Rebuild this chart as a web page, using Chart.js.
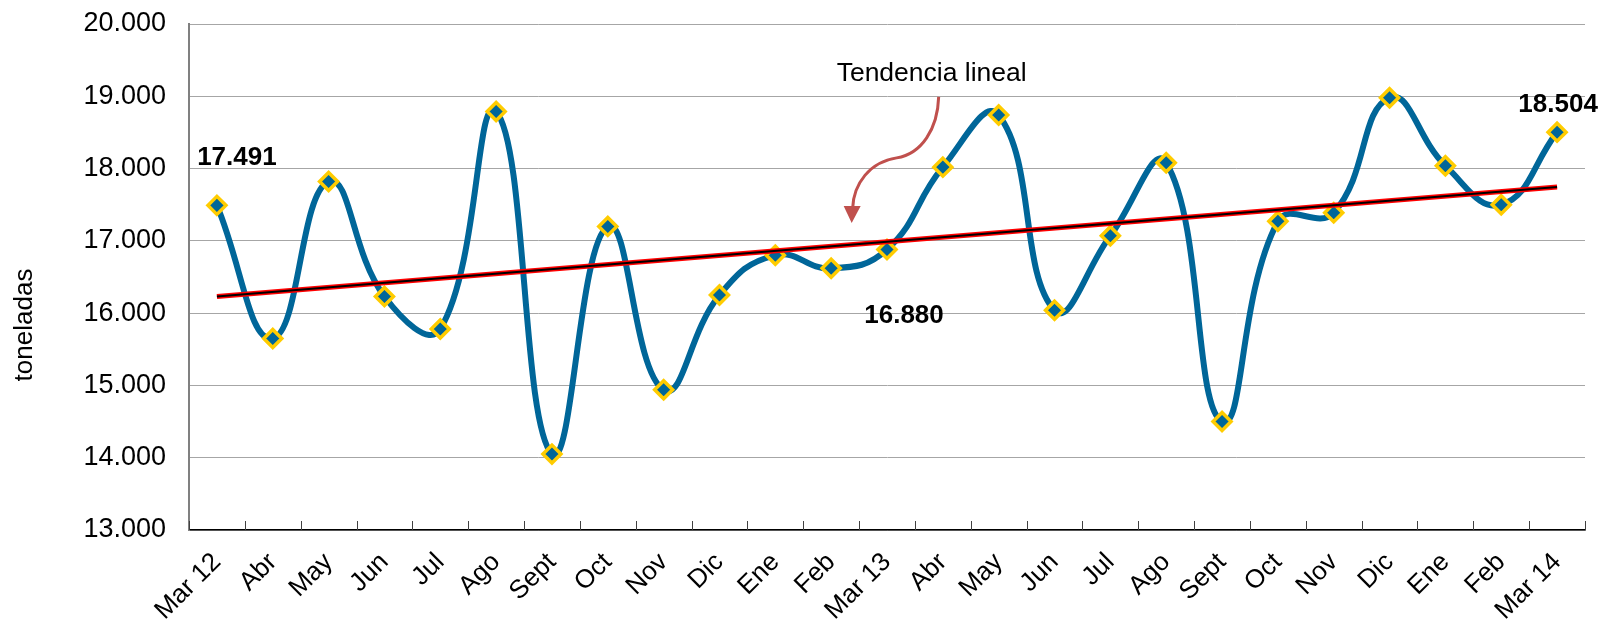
<!DOCTYPE html>
<html>
<head>
<meta charset="utf-8">
<script src="https://cdn.jsdelivr.net/npm/chart.js@4.4.1/dist/chart.umd.min.js"></script>
<style>
  html, body { margin: 0; padding: 0; background: #fff; }
  #wrap { width: 1606px; height: 624px; }
</style>
</head>
<body>
<div id="wrap"><canvas id="lineChart"></canvas></div>
<script>
var months = ['Mar 12', 'Abr', 'May', 'Jun', 'Jul', 'Ago', 'Sept', 'Oct', 'Nov', 'Dic', 'Ene', 'Feb',
  'Mar 13', 'Abr', 'May', 'Jun', 'Jul', 'Ago', 'Sept', 'Oct', 'Nov', 'Dic', 'Ene', 'Feb', 'Mar 14']
var tonnes = [17491, 15650, 17820, 16230, 15780, 18790, 14050, 17200, 14940, 16250, 16800, 16620,
  16880, 18020, 18740, 16040, 17070, 18080, 14500, 17270, 17390, 18980, 18040, 17500, 18504]
var trendEnds = [16230, 17745]
var calloutIdx = [0, 12, 24]
var yMin = 13000, yMax = 20000, yStep = 1000
var axisTitle = 'toneladas'
var trendNote = 'Tendencia lineal'

var FONT = '"Liberation Sans", Arial, sans-serif'

function fmt(v) {
  return String(Math.round(v)).replace(/\B(?=(\d{3})+(?!\d))/g, '.')
}

var trendData = months.map(function (m, i) {
  if (i === 0) return trendEnds[0]
  if (i === months.length - 1) return trendEnds[1]
  return null
})

//-------------
//- EXTRAS -
//-------------
var extras = {
  id: 'extras',
  afterDatasetsDraw: function (chart) {
    var ctx = chart.ctx
    var xs = chart.scales.x
    var ys = chart.scales.y
    var area = chart.chartArea
    ctx.save()

    // small inside ticks between categories
    ctx.strokeStyle = '#404040'
    ctx.lineWidth = 1
    for (var i = 0; i <= months.length; i++) {
      var tx = Math.round(xs.getPixelForValue(i - 0.5)) + 0.5
      ctx.beginPath()
      ctx.moveTo(tx, area.bottom)
      ctx.lineTo(tx, area.bottom - 9)
      ctx.stroke()
    }

    // value callouts
    var offs = [[20, -48], [17, 66], [1, -27]]
    ctx.font = 'bold 26px ' + FONT
    ctx.fillStyle = '#000'
    ctx.textAlign = 'center'
    ctx.textBaseline = 'middle'
    calloutIdx.forEach(function (idx, k) {
      var px = xs.getPixelForValue(idx)
      var py = ys.getPixelForValue(tonnes[idx])
      ctx.fillText(fmt(tonnes[idx]), px + offs[k][0], py + offs[k][1])
    })

    // trend note + curved arrow
    var ax = xs.getPixelForValue(12.8)
    var ay = ys.getPixelForValue(19310)
    ctx.font = '26.5px ' + FONT
    ctx.fillText(trendNote, ax, ay)
    ctx.strokeStyle = '#C0504D'
    ctx.fillStyle = '#C0504D'
    ctx.lineWidth = 3
    ctx.beginPath()
    ctx.moveTo(ax + 7, ay + 23)
    ctx.bezierCurveTo(ax + 6, ay + 55, ax - 10, ay + 80, ax - 35, ay + 84)
    ctx.bezierCurveTo(ax - 62, ay + 88, ax - 78, ay + 110, ax - 79, ay + 134)
    ctx.stroke()
    ctx.beginPath()
    ctx.moveTo(ax - 80, ay + 149)
    ctx.lineTo(ax - 88, ay + 132)
    ctx.lineTo(ax - 71, ay + 132)
    ctx.closePath()
    ctx.fill()

    // axis title
    ctx.fillStyle = '#000'
    ctx.font = '26px ' + FONT
    ctx.translate(25, (area.top + area.bottom) / 2 + 48)
    ctx.rotate(-Math.PI / 2)
    ctx.fillText(axisTitle, 0, 0)
    ctx.restore()
  }
}

var lineCanvas = document.getElementById('lineChart').getContext('2d')

var lineChart = new Chart(lineCanvas, {
  type: 'line',
  data: {
    labels: months,
    datasets: [
      {
        label: 'trend',
        data: trendData,
        borderColor: '#000000',
        borderWidth: 2,
        pointRadius: 0,
        spanGaps: true,
        tension: 0,
        order: 0
      },
      {
        label: 'trend-glow',
        data: trendData,
        borderColor: '#FF0000',
        borderWidth: 5,
        pointRadius: 0,
        spanGaps: true,
        tension: 0,
        order: 1
      },
      {
        label: 'toneladas',
        data: tonnes,
        borderColor: '#006699',
        borderWidth: 6,
        tension: 0.45,
        pointStyle: 'rectRot',
        pointRadius: 9,
        pointBackgroundColor: '#006699',
        pointBorderColor: '#FFCC00',
        pointBorderWidth: 3.5,
        order: 2
      }
    ]
  },
  options: {
    responsive: true,
    maintainAspectRatio: false,
    animation: false,
    layout: { padding: { top: 24, right: 21, bottom: 0, left: 0 } },
    plugins: {
      legend: { display: false },
      tooltip: { enabled: false }
    },
    scales: {
      x: {
        offset: true,
        grid: { display: false, drawTicks: false },
        border: { display: true, color: '#000000', width: 1.5 },
        ticks: {
          color: '#000',
          font: { family: FONT, size: 26 },
          minRotation: 45,
          maxRotation: 45,
          autoSkip: false,
          padding: 17
        },
        afterFit: function (scale) { scale.height = 94 }
      },
      y: {
        min: yMin,
        max: yMax,
        grid: { color: '#A6A6A6', lineWidth: 1, drawTicks: true, tickLength: 18, tickColor: 'rgba(0,0,0,0)' },
        border: { display: true, color: '#808080', width: 2 },
        ticks: {
          stepSize: yStep,
          color: '#000',
          font: { family: FONT, size: 27 },
          padding: 5,
          callback: function (v) { return fmt(v) }
        },
        afterFit: function (scale) { scale.width = 189 }
      }
    }
  },
  plugins: [extras]
})
</script>
</body>
</html>
